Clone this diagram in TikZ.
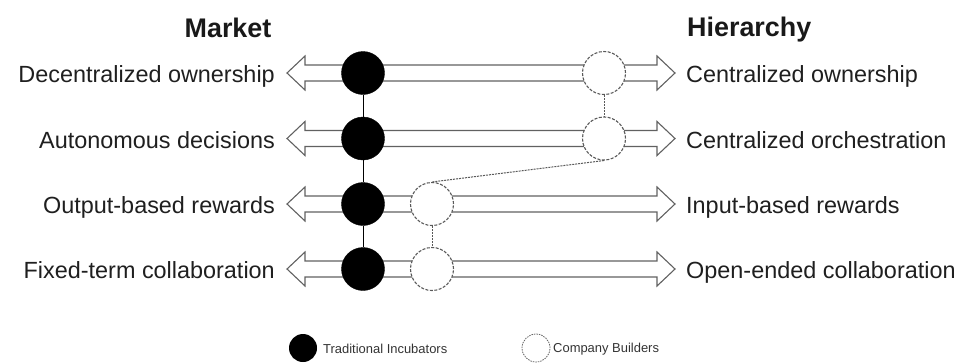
\documentclass[tikz,border=0pt]{standalone}
\usepackage{fontspec}
\setmainfont{Liberation Sans}
\begin{document}
\begin{tikzpicture}[x=1bp,y=-1bp,
  label/.style={font=\fontsize{23.5}{26}\selectfont, text=black!88, inner sep=0pt},
  head/.style={font=\bfseries\fontsize{27}{30}\selectfont, text=black!90, inner sep=0pt},
  legtext/.style={font=\fontsize{13}{15}\selectfont, text=black!80, inner sep=0pt},
  dblarrow/.style={draw=black!62, line width=1.1bp, fill=white, line join=miter},
  ti/.style={circle, fill=black, draw=black, minimum size=43bp, inner sep=0pt},
  cb/.style={circle, fill=white, draw=black!65, dash pattern=on 3bp off 1.5bp, line width=1.1bp, minimum size=43bp, inner sep=0pt},
  tilink/.style={draw=black, line width=1bp},
  cblink/.style={draw=black!65, line width=1bp, dash pattern=on 2bp off 1bp}
]
\useasboundingbox (0,0) rectangle (965,362);

% column headings
\node[head, anchor=base] (market) at (228,37) {Market};
\node[head, anchor=base west] (hier) at (687,36) {Hierarchy};

% double-headed scale for every dimension
\foreach \r/\y in {1/73, 2/138.5, 3/204, 4/269} {
  \draw[dblarrow] (287,\y) -- (305,\y-17) -- (305,\y-8) -- (657,\y-8) -- (657,\y-17)
    -- (675,\y) -- (657,\y+17) -- (657,\y+8) -- (305,\y+8) -- (305,\y+17) -- cycle;
}

% dimension labels
\node[label, anchor=base east] (l1) at (275,82.5) {Decentralized ownership};
\node[label, anchor=base east] (l2) at (275,148) {Autonomous decisions};
\node[label, anchor=base east] (l3) at (275,213.5) {Output-based rewards};
\node[label, anchor=base east] (l4) at (275,278.5) {Fixed-term collaboration};
\node[label, anchor=base west] (r1) at (686,82.5) {Centralized ownership};
\node[label, anchor=base west] (r2) at (686,148) {Centralized orchestration};
\node[label, anchor=base west] (r3) at (686,213.5) {Input-based rewards};
\node[label, anchor=base west] (r4) at (686,278.5) {Open-ended collaboration};

% traditional incubators
\node[ti] (t1) at (363,73) {};
\node[ti] (t2) at (363,138.5) {};
\node[ti] (t3) at (363,204) {};
\node[ti] (t4) at (363,269) {};
\draw[tilink] (t1) -- (t2) (t2) -- (t3) (t3) -- (t4);

% company builders
\node[cb] (c1) at (604,73) {};
\node[cb] (c2) at (604,138.5) {};
\node[cb] (c3) at (432,204) {};
\node[cb] (c4) at (432,269) {};
\draw[cblink] (c1.south) -- (c2.north);
\draw[cblink] (c2.south) -- (c3.north);
\draw[cblink] (c3.south) -- (c4.north);

% legend
\node[circle, fill=black, minimum size=28bp, inner sep=0pt] (legti) at (303,348) {};
\node[legtext, anchor=west] (legtitxt) at (323,349) {Traditional Incubators};
\node[circle, fill=white, draw=black!60, dash pattern=on 1.5bp off 1bp, line width=0.8bp, minimum size=28bp, inner sep=0pt] (legcb) at (536,348) {};
\node[legtext, anchor=west] (legcbtxt) at (553,349) {Company Builders};
\end{tikzpicture}
\end{document}
